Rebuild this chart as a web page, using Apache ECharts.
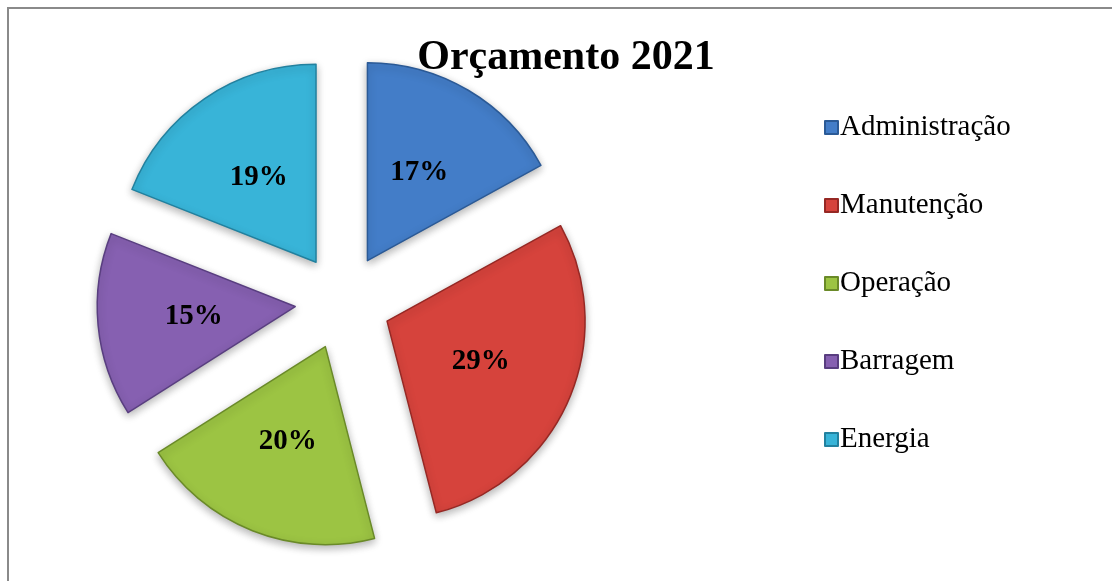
<!DOCTYPE html>
<html>
<head>
<meta charset="utf-8">
<title>Orçamento 2021</title>
<script src="https://cdn.jsdelivr.net/npm/echarts@6/dist/echarts.min.js"></script>
<style>
  html,body{margin:0;padding:0;background:#fff;}
  #chart{width:1112px;height:581px;}
</style>
</head>
<body>
<div id="chart"></div>
<script>
// dados
const categorias = ['Administração', 'Manutenção', 'Operação', 'Barragem', 'Energia']
const valores = [17, 29, 20, 15, 19]
// cores base e borda (estilo Office)
const cores = ['#437dc8', '#d6433c', '#9cc443', '#8660b1', '#38b4d8']
const bordas = ['#2b5a96', '#962824', '#6a8a28', '#593e80', '#22819f']

const chart = echarts.init(document.getElementById('chart'))
const option = {
  animation:false,
  title:{
    text:'Orçamento 2021',
    left:561,
    textAlign:'center',
    top:32,
    textStyle:{
      fontFamily:'Liberation Serif',
      fontWeight:'bold',
      fontSize:42,
      color:'#000'
    }
  },
  legend:{
    orient:'vertical',
    left:819,
    top:108,
    itemWidth:13,
    itemHeight:13,
    itemGap:49,
    icon:'rect',
    selectedMode:false,
    textStyle:{
      fontFamily:'Liberation Serif',
      fontSize:29,
      color:'#000',
      padding:[0,0,0,-3]
    },
    data:categorias
  },
  graphic:[{
    type:'rect',
    shape:{x:8, y:8, width:1130, height:620},
    style:{fill:'none', stroke:'#8a8a8a', lineWidth:2},
    silent:true,
    z:-1
  }],
  series:[{
    type:'pie',
    center:[343, 302],
    radius:[0, 198],
    startAngle:90,
    selectedMode:'multiple',
    selectedOffset:48,
    percentPrecision:0,
    emphasis:{disabled:true},
    label:{
      show:true,
      position:'inside',
      formatter:'{d}%',
      fontFamily:'Liberation Serif',
      fontWeight:'bold',
      fontSize:29,
      color:'#000'
    },
    labelLine:{show:false},
    itemStyle:{
      borderWidth:1.5,
      shadowBlur:8,
      shadowColor:'rgba(0,0,0,0.3)',
      shadowOffsetY:3
    },
    data:categorias.map((n, i) => ({
      name:n,
      value:valores[i],
      selected:true,
      itemStyle:{color:cores[i], borderColor:bordas[i]}
    }))
  }]
}
chart.setOption(option)
</script>
</body>
</html>
